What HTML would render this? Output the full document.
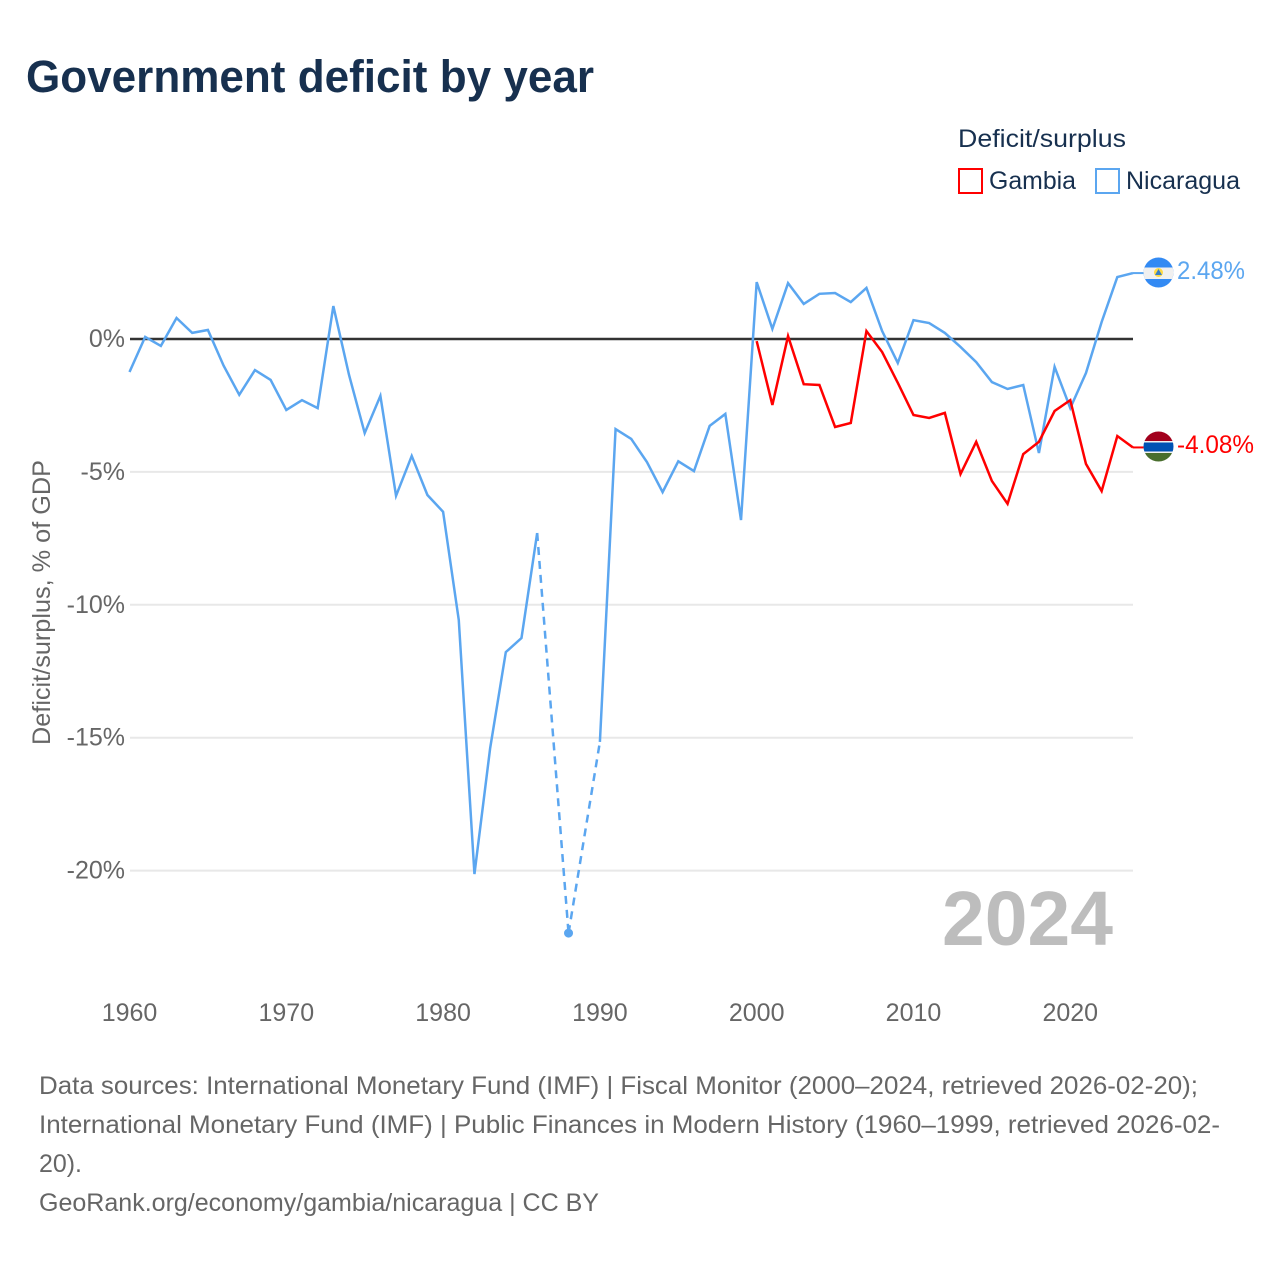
<!DOCTYPE html>
<html lang="en">
<head>
<meta charset="utf-8">
<title>Government deficit by year</title>
<style>
html,body{margin:0;padding:0;background:#fff;}
svg{display:block;font-family:"Liberation Sans",Arial,sans-serif;}
</style>
</head>
<body>
<svg id="chart" width="1280" height="1280" viewBox="0 0 1280 1280" xmlns="http://www.w3.org/2000/svg">
  <defs>
    <clipPath id="flag-clip-nic"><circle cx="1158.5" cy="272.5" r="15"/></clipPath>
    <clipPath id="flag-clip-gmb"><circle cx="1158.5" cy="446.5" r="15"/></clipPath>
  </defs>
  <rect width="1280" height="1280" fill="#fff"/>
  <text x="26" y="92" font-size="45" font-weight="700" fill="#17304f" textLength="568" lengthAdjust="spacingAndGlyphs">Government deficit by year</text>

  <g>
    <text x="958" y="147" font-size="25" fill="#17304f" textLength="168" lengthAdjust="spacingAndGlyphs">Deficit/surplus</text>
    <g>
      <rect x="959" y="169" width="23" height="24" fill="none" stroke="#ff0000" stroke-width="2"/>
      <text x="989" y="189" font-size="25" fill="#17304f" textLength="87" lengthAdjust="spacingAndGlyphs">Gambia</text>
    </g>
    <g>
      <rect x="1096" y="169" width="23" height="24" fill="none" stroke="#5ba6f0" stroke-width="2"/>
      <text x="1126" y="189" font-size="25" fill="#17304f" textLength="114" lengthAdjust="spacingAndGlyphs">Nicaragua</text>
    </g>
  </g>

  <g id="grid"></g>
  <g id="yticks"></g>
  <g id="xticks"></g>
  <text transform="translate(50,745) rotate(-90)" font-size="25" fill="#666" textLength="285" lengthAdjust="spacingAndGlyphs">Deficit/surplus, % of GDP</text>

  <text x="942" y="945" font-size="77" font-weight="700" fill="#bdbdbd" textLength="171" lengthAdjust="spacingAndGlyphs">2024</text>

  <g id="series"></g>

  <g clip-path="url(#flag-clip-nic)">
    <rect x="1143" y="257" width="31" height="31" fill="#338af3"/>
    <rect x="1143" y="267.5" width="31" height="11.5" fill="#f0f0f0"/>
    <circle cx="1158.5" cy="272.5" r="4.5" fill="#ffda44"/>
    <polygon points="1158.5,269 1162,275 1155,275" fill="#3b7fc4"/>
  </g>
  <g clip-path="url(#flag-clip-gmb)">
    <rect x="1143" y="431" width="31" height="31" fill="#f0f0f0"/>
    <rect x="1143" y="431" width="31" height="10" fill="#a2001d"/>
    <rect x="1143" y="442.5" width="31" height="9" fill="#0052b4"/>
    <rect x="1143" y="453" width="31" height="9" fill="#496e2d"/>
  </g>
  <text id="value-nicaragua" x="1177" y="279" font-size="25" fill="#5ba6f0" textLength="68" lengthAdjust="spacingAndGlyphs">2.48%</text>
  <text id="value-gambia" x="1177" y="453" font-size="25" fill="#ff0000" textLength="77" lengthAdjust="spacingAndGlyphs">-4.08%</text>

  <g font-size="25" fill="#666">
    <text x="39" y="1094" textLength="1159" lengthAdjust="spacingAndGlyphs">Data sources: International Monetary Fund (IMF) | Fiscal Monitor (2000–2024, retrieved 2026-02-20);</text>
    <text x="39" y="1133" textLength="1181" lengthAdjust="spacingAndGlyphs">International Monetary Fund (IMF) | Public Finances in Modern History (1960–1999, retrieved 2026-02-</text>
    <text x="39" y="1172" textLength="43" lengthAdjust="spacingAndGlyphs">20).</text>
    <text x="39" y="1211" textLength="560" lengthAdjust="spacingAndGlyphs">GeoRank.org/economy/gambia/nicaragua | CC BY</text>
  </g>
</svg>
<script>
var yTickValues = [0, -5, -10, -15, -20];
var yTickLabels = ["0%", "-5%", "-10%", "-15%", "-20%"];
var xTickValues = [1960, 1970, 1980, 1990, 2000, 2010, 2020];
var xTickLabels = ["1960", "1970", "1980", "1990", "2000", "2010", "2020"];
var years = [1960,1961,1962,1963,1964,1965,1966,1967,1968,1969,1970,1971,1972,1973,1974,1975,1976,1977,1978,1979,1980,1981,1982,1983,1984,1985,1986,1987,1988,1989,1990,1991,1992,1993,1994,1995,1996,1997,1998,1999,2000,2001,2002,2003,2004,2005,2006,2007,2008,2009,2010,2011,2012,2013,2014,2015,2016,2017,2018,2019,2020,2021,2022,2023,2024];
var nicaragua = [-1.24,0.08,-0.26,0.79,0.23,0.34,-1.0,-2.1,-1.17,-1.54,-2.67,-2.3,-2.6,1.24,-1.35,-3.54,-2.14,-5.9,-4.4,-5.87,-6.5,-10.57,-20.13,-15.4,-11.78,-11.25,-7.3,null,-22.35,null,-15.16,-3.39,-3.76,-4.63,-5.76,-4.6,-4.97,-3.27,-2.82,-6.81,2.14,0.38,2.1,1.32,1.7,1.73,1.39,1.92,0.3,-0.9,0.71,0.6,0.23,-0.3,-0.87,-1.62,-1.88,-1.73,-4.29,-1.05,-2.6,-1.28,0.64,2.33,2.48];
var gambia = [null,null,null,null,null,null,null,null,null,null,null,null,null,null,null,null,null,null,null,null,null,null,null,null,null,null,null,null,null,null,null,null,null,null,null,null,null,null,null,null,-0.08,-2.48,0.11,-1.7,-1.73,-3.31,-3.16,0.3,-0.49,-1.65,-2.86,-2.97,-2.78,-5.08,-3.87,-5.34,-6.2,-4.33,-3.87,-2.71,-2.3,-4.7,-5.72,-3.65,-4.08];

var SVGNS = "http://www.w3.org/2000/svg";
function xScale(year) { return 129.5 + (year - 1960) * (1003.5 / 64); }
function yScale(v) { return 339 - v * 26.58; }

function make(tag, parent) {
  var el = document.createElementNS(SVGNS, tag);
  parent.appendChild(el);
  return el;
}

var gridGroup = document.getElementById("grid");
var yTickGroup = document.getElementById("yticks");
var xTickGroup = document.getElementById("xticks");
var seriesGroup = document.getElementById("series");

yTickValues.forEach(function (v, i) {
  if (v !== 0) {
    var line = make("line", gridGroup);
    
    
    line.setAttribute("x1", 130);
    line.setAttribute("x2", 1133);
    line.setAttribute("y1", yScale(v));
    line.setAttribute("y2", yScale(v));
    line.setAttribute("stroke", "#e8e8e8");
    line.setAttribute("stroke-width", 2);
  }
  var label = make("text", yTickGroup);
  
  
  label.setAttribute("x", 125);
  label.setAttribute("y", yScale(v) + 8);
  label.setAttribute("text-anchor", "end");
  label.setAttribute("font-size", 25);
  label.setAttribute("fill", "#666");
  label.textContent = yTickLabels[i];
});

xTickValues.forEach(function (year, i) {
  var label = make("text", xTickGroup);
  
  
  label.setAttribute("x", xScale(year));
  label.setAttribute("y", 1021);
  label.setAttribute("text-anchor", "middle");
  label.setAttribute("font-size", 25);
  label.setAttribute("fill", "#666");
  label.textContent = xTickLabels[i];
});

function drawSeries(values, color, key) {
  var defined = [];
  values.forEach(function (v, i) {
    if (v !== null) defined.push({ x: xScale(years[i]), y: yScale(v), i: i });
  });
  // dashed bridges across missing years
  for (var d = 1; d < defined.length; d++) {
    if (defined[d].i - defined[d - 1].i > 1) {
      var bridge = make("line", seriesGroup);
      
      
      bridge.setAttribute("x1", defined[d - 1].x);
      bridge.setAttribute("y1", defined[d - 1].y);
      bridge.setAttribute("x2", defined[d].x);
      bridge.setAttribute("y2", defined[d].y);
      bridge.setAttribute("stroke", color);
      bridge.setAttribute("stroke-width", 2.5);
      bridge.setAttribute("stroke-dasharray", "8 6");
    }
  }
  // solid runs and isolated points
  var run = [];
  function flush() {
    if (run.length === 1) {
      var dot = make("circle", seriesGroup);
      
      
      dot.setAttribute("cx", run[0].x);
      dot.setAttribute("cy", run[0].y);
      dot.setAttribute("r", 4.5);
      dot.setAttribute("fill", color);
    } else if (run.length > 1) {
      var path = make("path", seriesGroup);
      
      
      path.setAttribute("d", run.map(function (p, k) {
        return (k ? "L" : "M") + p.x.toFixed(2) + " " + p.y.toFixed(2);
      }).join(""));
      path.setAttribute("fill", "none");
      path.setAttribute("stroke", color);
      path.setAttribute("stroke-width", 2.5);
      path.setAttribute("stroke-linejoin", "miter");
    }
    run = [];
  }
  defined.forEach(function (p, k) {
    if (k && p.i - defined[k - 1].i > 1) flush();
    run.push(p);
  });
  flush();
  // connector from the last point to the flag
  var last = defined[defined.length - 1];
  var connector = make("line", seriesGroup);
  
  
  connector.setAttribute("x1", last.x);
  connector.setAttribute("y1", last.y);
  connector.setAttribute("x2", 1144);
  connector.setAttribute("y2", last.y);
  connector.setAttribute("stroke", color);
  connector.setAttribute("stroke-width", 2);
}

drawSeries(nicaragua, "#5ba6f0", "nicaragua");

var zeroLine = make("line", seriesGroup);


zeroLine.setAttribute("x1", 130);
zeroLine.setAttribute("x2", 1133);
zeroLine.setAttribute("y1", yScale(0));
zeroLine.setAttribute("y2", yScale(0));
zeroLine.setAttribute("stroke", "#333");
zeroLine.setAttribute("stroke-width", 2.6);
seriesGroup.insertBefore(zeroLine, seriesGroup.firstChild);

drawSeries(gambia, "#ff0000", "gambia");
</script>
</body>
</html>
